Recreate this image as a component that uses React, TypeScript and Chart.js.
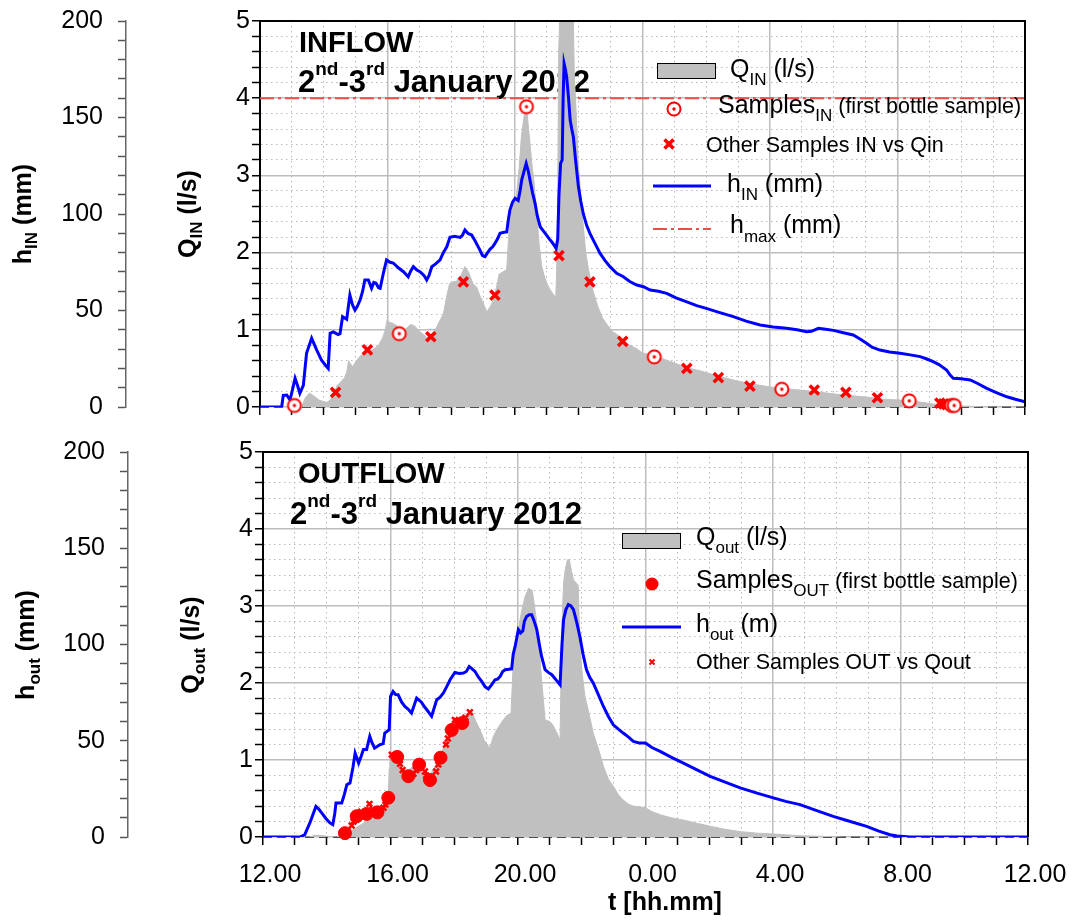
import React, { useEffect, useRef } from 'react';
import { Chart, registerables } from 'chart.js';

Chart.register(...registerables);

const FONT = '"Liberation Sans", Arial, Helvetica, sans-serif';

// ---------- X axis: hours after 12.00 (2nd Jan) ----------
const xTickLabels = ['12.00', '16.00', '20.00', '0.00', '4.00', '8.00', '12.00'];

// ---------- INFLOW ----------
const qInT = [0, 1.3, 1.42, 1.55, 1.7, 1.85, 2.0, 2.1, 2.2, 2.3, 2.42, 2.55, 2.65, 2.72, 2.78, 2.9, 3.0, 3.1, 3.2, 3.3, 3.45, 3.6, 3.72, 3.85, 3.93, 3.99, 4.05, 4.18, 4.3, 4.45, 4.6, 4.72, 4.85, 4.98, 5.1, 5.22, 5.35, 5.5, 5.62, 5.75, 5.85, 5.95, 6.05, 6.17, 6.3, 6.43, 6.55, 6.68, 6.8, 6.92, 7.05, 7.12, 7.22, 7.32, 7.42, 7.5, 7.62, 7.74, 7.8, 7.86, 7.95, 8.05, 8.13, 8.2, 8.27, 8.32, 8.38, 8.45, 8.53, 8.6, 8.68, 8.76, 8.84, 8.92, 9.0, 9.1, 9.2, 9.28, 9.33, 9.37, 9.42, 9.82, 9.86, 9.92, 9.98, 10.05, 10.13, 10.22, 10.32, 10.45, 10.6, 10.75, 10.9, 11.05, 11.2, 11.4, 11.6, 11.8, 12.0, 12.3, 12.6, 13.0, 13.4, 13.8, 14.3, 14.85, 15.4, 16.0, 16.7, 17.4, 18.2, 19.0, 19.6, 20.1, 20.6, 21.1, 21.6, 22.2, 22.8, 23.3, 24];
const qInV = [0, 0, 0.12, 0.18, 0.14, 0.09, 0.07, 0.06, 0.09, 0.15, 0.28, 0.33, 0.38, 0.45, 0.6, 0.52, 0.58, 0.64, 0.68, 0.7, 0.72, 0.76, 0.8, 0.9, 1.0, 1.13, 1.1, 1.08, 1.05, 0.98, 1.02, 1.07, 1.05, 0.99, 0.95, 0.9, 0.93, 1.0, 1.1, 1.2, 1.42, 1.6, 1.62, 1.63, 1.7, 1.82, 1.74, 1.6, 1.55, 1.42, 1.3, 1.23, 1.3, 1.38, 1.55, 1.72, 1.75, 1.78, 2.2, 2.5, 2.6, 2.75, 3.1, 3.5, 3.72, 3.86, 3.8, 3.5, 3.15, 2.9, 2.5, 2.1, 1.82, 1.7, 1.6, 1.52, 1.46, 1.42, 2.1, 4.6, 5.3, 5.3, 4.3, 3.8, 3.2, 2.8, 2.4, 2.0, 1.75, 1.5, 1.3, 1.15, 1.06, 0.98, 0.94, 0.86, 0.8, 0.76, 0.7, 0.67, 0.63, 0.57, 0.51, 0.47, 0.41, 0.35, 0.3, 0.26, 0.23, 0.2, 0.16, 0.13, 0.1, 0.09, 0.07, 0.04, 0.02, 0.01, 0, 0, 0];

const hInT = [0, 0.68, 0.73, 0.84, 0.94, 1.02, 1.1, 1.18, 1.25, 1.36, 1.46, 1.62, 1.78, 1.93, 2.06, 2.14, 2.2, 2.3, 2.45, 2.51, 2.59, 2.72, 2.82, 2.9, 2.98, 3.05, 3.14, 3.22, 3.29, 3.4, 3.5, 3.57, 3.64, 3.72, 3.77, 3.87, 3.97, 4.08, 4.18, 4.35, 4.5, 4.65, 4.73, 4.81, 4.92, 5.02, 5.15, 5.23, 5.3, 5.39, 5.5, 5.65, 5.75, 5.86, 5.96, 6.1, 6.28, 6.35, 6.43, 6.52, 6.64, 6.75, 6.9, 6.98, 7.06, 7.14, 7.22, 7.3, 7.37, 7.45, 7.53, 7.65, 7.74, 7.8, 7.84, 7.92, 8.0, 8.1, 8.16, 8.21, 8.28, 8.35, 8.42, 8.47, 8.55, 8.63, 8.7, 8.79, 8.9, 8.99, 9.08, 9.15, 9.22, 9.29, 9.34, 9.38, 9.43, 9.48, 9.51, 9.54, 9.58, 9.62, 9.68, 9.73, 9.78, 9.83, 9.9, 9.99, 10.06, 10.14, 10.25, 10.35, 10.5, 10.67, 10.82, 10.98, 11.19, 11.4, 11.6, 11.82, 12.03, 12.24, 12.5, 12.76, 13.05, 13.39, 13.7, 14.0, 14.4, 14.85, 15.25, 15.69, 16.1, 16.52, 16.85, 17.15, 17.3, 17.52, 17.75, 17.99, 18.3, 18.61, 18.8, 19.03, 19.2, 19.45, 19.75, 20.08, 20.4, 20.71, 20.9, 21.12, 21.3, 21.54, 21.65, 21.75, 22.0, 22.28, 22.5, 22.8, 23.1, 23.43, 23.7, 24];
const hInV = [0, 0, 6, 6.2, 3.6, 9, 14.9, 11, 7.1, 11.2, 27.8, 35.6, 29.5, 24.3, 21.5, 20, 38.2, 38.9, 37.5, 38, 46.8, 45.5, 58, 53, 50.2, 52, 55.4, 60, 65.8, 65.8, 61.5, 64.5, 64.1, 61.8, 61.5, 69.3, 76.2, 75, 74.6, 72, 70.1, 67.5, 70.5, 72.7, 71, 70.1, 68, 65.8, 68, 72.7, 74, 76.2, 80, 83, 87.9, 88.5, 87.9, 89, 91.7, 90, 89.1, 86, 81.3, 78.5, 77.9, 80, 81.8, 83, 84.8, 87, 90, 90.5, 90.7, 98, 102, 106, 108.1, 107, 112, 117.6, 122, 126.2, 122, 117.6, 111, 105.5, 99, 93.4, 91, 89.1, 87, 85.6, 84, 82.2, 87, 110, 126.2, 128, 160, 178, 175, 171.1, 160, 148.7, 144, 140, 128, 114.1, 107, 100.3, 94, 90, 85, 79.6, 76, 72.7, 69.3, 67.5, 65, 63.2, 62.3, 60.6, 60, 58.9, 56.5, 54.5, 52.5, 51.1, 49, 46.8, 44.5, 42.5, 41.5, 40.8, 40, 39, 39.2, 40.8, 40.3, 39.7, 38.5, 37.3, 35.5, 33, 31, 29.5, 28.5, 27.8, 27, 26.1, 25, 23.5, 22, 19.2, 16.5, 14.9, 14.6, 14, 12.3, 9.7, 7.5, 5.3, 4, 2.7];

const sampInT = [1.08, 4.37, 8.36, 12.37, 16.37, 20.37, 21.7, 21.78];
const sampInQ = [0.02, 0.95, 3.89, 0.65, 0.23, 0.08, 0.02, 0.02];

const otherInT = [2.37, 3.37, 5.36, 6.38, 7.37, 9.38, 10.35, 11.38, 13.39, 14.38, 15.37, 17.39, 18.38, 19.37, 21.33, 21.45, 21.55, 21.65];
const otherInQ = [0.19, 0.74, 0.91, 1.62, 1.45, 1.96, 1.62, 0.85, 0.5, 0.38, 0.27, 0.22, 0.19, 0.12, 0.05, 0.04, 0.03, 0.03];

const hMaxValue = 160; // mm

// ---------- OUTFLOW ----------
const qOutT = [0, 1.45, 1.6, 1.8, 2.0, 2.3, 2.5, 2.73, 2.95, 3.15, 3.35, 3.57, 3.75, 3.93, 3.96, 3.98, 4.1, 4.19, 4.35, 4.51, 4.65, 4.82, 4.98, 5.14, 5.3, 5.45, 5.6, 5.76, 5.88, 5.97, 6.1, 6.25, 6.4, 6.55, 6.68, 6.81, 6.95, 7.12, 7.22, 7.33, 7.5, 7.65, 7.78, 7.85, 8.01, 8.12, 8.22, 8.33, 8.45, 8.59, 8.67, 8.75, 8.85, 9.0, 9.1, 9.22, 9.32, 9.37, 9.43, 9.48, 9.55, 9.61, 9.68, 9.74, 9.89, 9.94, 10.02, 10.1, 10.23, 10.36, 10.52, 10.68, 10.84, 10.99, 11.15, 11.3, 11.46, 11.62, 11.85, 12.0, 12.2, 12.46, 12.8, 13.19, 13.6, 14.03, 14.5, 14.97, 15.5, 16.01, 16.7, 17.37, 18.2, 24];
const qOutV = [0, 0, 0.02, 0.02, 0.01, 0, 0.02, 0.07, 0.13, 0.18, 0.24, 0.31, 0.4, 0.53, 0.9, 1.09, 1.05, 1.0, 0.9, 0.83, 0.9, 0.96, 0.85, 0.74, 0.85, 0.96, 1.1, 1.26, 1.42, 1.52, 1.5, 1.55, 1.6, 1.63, 1.5, 1.39, 1.25, 1.16, 1.3, 1.39, 1.5, 1.58, 1.6, 2.26, 2.69, 2.95, 3.12, 3.23, 3.2, 2.78, 2.4, 2.0, 1.52, 1.5, 1.45, 1.35, 1.26, 2.69, 3.3, 3.47, 3.6, 3.6, 3.45, 3.34, 3.27, 2.48, 2.1, 1.83, 1.6, 1.35, 1.15, 0.92, 0.75, 0.66, 0.55, 0.48, 0.43, 0.4, 0.39, 0.38, 0.33, 0.29, 0.25, 0.22, 0.18, 0.14, 0.1, 0.07, 0.05, 0.04, 0.02, 0.01, 0, 0];

const hOutT = [0, 1.16, 1.31, 1.47, 1.66, 1.75, 1.84, 1.98, 2.1, 2.19, 2.25, 2.29, 2.47, 2.55, 2.63, 2.73, 2.82, 2.89, 3.0, 3.08, 3.15, 3.25, 3.35, 3.42, 3.5, 3.58, 3.66, 3.77, 3.82, 3.96, 4.0, 4.08, 4.16, 4.24, 4.35, 4.45, 4.55, 4.66, 4.82, 4.97, 5.05, 5.14, 5.29, 5.45, 5.55, 5.66, 5.76, 5.87, 6.02, 6.15, 6.29, 6.38, 6.47, 6.55, 6.65, 6.76, 6.86, 6.97, 7.07, 7.17, 7.28, 7.36, 7.44, 7.52, 7.6, 7.8, 7.85, 7.91, 8.01, 8.08, 8.15, 8.2, 8.27, 8.35, 8.43, 8.51, 8.59, 8.67, 8.74, 8.85, 8.95, 9.06, 9.2, 9.32, 9.38, 9.43, 9.5, 9.58, 9.66, 9.74, 9.85, 9.94, 10.04, 10.15, 10.25, 10.36, 10.52, 10.68, 10.84, 10.99, 11.15, 11.3, 11.46, 11.62, 11.8, 12.0, 12.2, 12.46, 12.8, 13.19, 13.6, 14.03, 14.5, 14.97, 15.5, 16.01, 16.4, 16.85, 17.35, 17.89, 18.4, 18.94, 19.3, 19.67, 19.9, 20.3, 24];
const hOutV = [0, 0, 1.2, 7.3, 15.9, 14.5, 12.5, 9.5, 7.3, 6.4, 12, 17.7, 17.7, 22, 27.2, 28.1, 36, 43.6, 38.4, 42, 45.4, 45.4, 52.3, 49, 46.2, 47, 47.9, 48.5, 54, 55.7, 73, 75.6, 74, 73.9, 70, 67.8, 66.5, 64.4, 72.2, 70, 68, 66.1, 62.7, 71.3, 72.5, 74.8, 78, 81.7, 85.5, 85, 85.2, 86, 88.6, 87.5, 86, 83, 80.8, 78, 76.9, 79, 81.7, 82, 83.4, 86, 86.9, 87.3, 95, 99, 107.7, 106, 107, 112, 114.6, 115.5, 115.5, 112, 107.7, 100, 93.8, 86.9, 85.5, 84.3, 81.5, 79.1, 100, 112.9, 118, 120.7, 120, 118.1, 111, 104.2, 95, 86.9, 83, 80, 74, 67.8, 62.5, 58.3, 56, 54, 52, 49.7, 48.8, 48.8, 46.5, 44.5, 41.5, 38.4, 35, 31.5, 28.5, 25.5, 22.8, 20.3, 18.5, 16.8, 13.8, 10.7, 8.2, 5.5, 3.2, 1.2, 0.5, 0, 0];

const sampOutT = [2.57, 2.94, 3.25, 3.59, 3.93, 4.21, 4.56, 4.9, 5.24, 5.57, 5.92, 6.25];
const sampOutQ = [0.05, 0.27, 0.3, 0.32, 0.51, 1.04, 0.79, 0.94, 0.74, 1.03, 1.39, 1.48];

const otherOutT = [2.66, 2.78, 2.84, 3.08, 3.12, 3.34, 3.44, 3.7, 3.78, 3.84, 4.04, 4.3, 4.38, 4.48, 4.72, 4.8, 5.08, 5.12, 5.43, 5.5, 5.74, 5.8, 6.02, 6.1, 6.35, 6.49];
const otherOutQ = [0.08, 0.15, 0.2, 0.33, 0.3, 0.43, 0.36, 0.35, 0.38, 0.42, 1.07, 0.95, 0.87, 0.82, 0.82, 0.87, 0.85, 0.8, 0.85, 0.94, 1.2, 1.28, 1.52, 1.46, 1.55, 1.62];

// ---------- helpers ----------
const pts = (t: number[], v: number[]) => t.map((x, i) => ({ x, y: v[i] }));
const isInt = (v: number) => Math.abs(v - Math.round(v)) < 1e-6;

type Seg = { t: string; size: number; bold?: boolean; dy?: number };
const fontOf = (s: Seg) => `${s.bold ? 'bold ' : ''}${s.size}px ${FONT}`;

function drawRich(ctx: CanvasRenderingContext2D, segs: Seg[], x: number, y: number, rotate = false, center = false) {
  ctx.save();
  ctx.fillStyle = '#000';
  ctx.textAlign = 'left';
  ctx.textBaseline = 'alphabetic';
  ctx.translate(x, y);
  if (rotate) ctx.rotate(-Math.PI / 2);
  let total = 0;
  for (const s of segs) {
    ctx.font = fontOf(s);
    total += ctx.measureText(s.t).width;
  }
  let cx = center ? -total / 2 : 0;
  for (const s of segs) {
    ctx.font = fontOf(s);
    ctx.fillText(s.t, cx, s.dy || 0);
    cx += ctx.measureText(s.t).width;
  }
  ctx.restore();
}

function makeCircleDot(): HTMLCanvasElement {
  const c = document.createElement('canvas');
  c.width = 18;
  c.height = 18;
  const g = c.getContext('2d')!;
  g.beginPath();
  g.arc(9, 9, 6.5, 0, Math.PI * 2);
  g.fillStyle = '#ffffff';
  g.fill();
  g.lineWidth = 2;
  g.strokeStyle = '#ff0000';
  g.stroke();
  g.beginPath();
  g.arc(9, 9, 1.7, 0, Math.PI * 2);
  g.fillStyle = '#ff0000';
  g.fill();
  return c;
}

function drawCross(ctx: CanvasRenderingContext2D, x: number, y: number, r: number, w: number) {
  ctx.save();
  ctx.strokeStyle = '#ff0000';
  ctx.lineWidth = w;
  ctx.beginPath();
  ctx.moveTo(x - r, y - r);
  ctx.lineTo(x + r, y + r);
  ctx.moveTo(x - r, y + r);
  ctx.lineTo(x + r, y - r);
  ctx.stroke();
  ctx.restore();
}

const big = (t: string, dy = 0): Seg => ({ t, size: 25, dy });
const sub = (t: string, dy = 8): Seg => ({ t, size: 17, dy });
const small = (t: string): Seg => ({ t, size: 21.5 });
const bold = (t: string, size: number, dy = 0): Seg => ({ t, size, bold: true, dy });

function decoPlugin(kind: 'in' | 'out', circleDot: HTMLCanvasElement) {
  const isOut = kind === 'out';
  return {
    id: 'deco_' + kind,
    beforeDatasetsDraw(chart: any) {
      const { ctx, chartArea: a } = chart;
      ctx.save();
      ctx.strokeStyle = '#222';
      ctx.lineWidth = 1.5;
      ctx.setLineDash([9, 5]);
      ctx.beginPath();
      ctx.moveTo(a.left, a.bottom);
      ctx.lineTo(a.right, a.bottom);
      ctx.stroke();
      ctx.setLineDash([]);
      ctx.restore();
      const dateSegs = [bold('2', 31), bold('nd', 19, -17), bold('-3', 31), bold('rd', 19, -17), bold(' January 2012', 31)];
      if (!isOut) {
        drawRich(ctx, [bold('INFLOW', 29)], 299, 52);
        drawRich(ctx, dateSegs, 298, 92);
      } else {
        drawRich(ctx, [bold('OUTFLOW', 29)], 298, 53);
        drawRich(ctx, dateSegs, 290, 93.5);
      }
    },
    afterDatasetsDraw(chart: any) {
      const { ctx, chartArea: a } = chart;
      ctx.save();
      ctx.strokeStyle = '#000';
      ctx.lineWidth = 2;
      ctx.beginPath();
      ctx.moveTo(a.left, a.top);
      ctx.lineTo(a.right, a.top);
      ctx.lineTo(a.right, a.bottom);
      ctx.stroke();
      ctx.restore();

      ctx.save();
      if (!isOut) {
        ctx.fillStyle = '#c0c0c0';
        ctx.fillRect(657, 63, 59, 16);
        ctx.strokeStyle = '#000';
        ctx.lineWidth = 1;
        ctx.strokeRect(657.5, 63.5, 58, 15);
        drawRich(ctx, [big('Q'), sub('IN'), big(' (l/s)')], 730, 77);
        ctx.drawImage(circleDot, 674 - 9, 109 - 9);
        drawRich(ctx, [big('Samples'), sub('IN'), small(' (first bottle sample)')], 718, 113);
        drawCross(ctx, 669, 144, 4.5, 3.5);
        drawRich(ctx, [small('Other Samples IN vs Qin')], 706, 152);
        ctx.strokeStyle = '#0000ff';
        ctx.lineWidth = 3;
        ctx.beginPath();
        ctx.moveTo(653, 186);
        ctx.lineTo(711, 186);
        ctx.stroke();
        drawRich(ctx, [big('h'), sub('IN'), big(' (mm)')], 727, 192);
        ctx.strokeStyle = '#ee4b4b';
        ctx.lineWidth = 2;
        ctx.setLineDash([14, 4, 3, 4]);
        ctx.beginPath();
        ctx.moveTo(653, 229);
        ctx.lineTo(711, 229);
        ctx.stroke();
        ctx.setLineDash([]);
        drawRich(ctx, [big('h'), sub('max', 9), big(' (mm)')], 730, 233);
      } else {
        ctx.fillStyle = '#c0c0c0';
        ctx.fillRect(622, 103, 59, 16);
        ctx.strokeStyle = '#000';
        ctx.lineWidth = 1;
        ctx.strokeRect(622.5, 103.5, 58, 15);
        drawRich(ctx, [big('Q'), sub('out'), big(' (l/s)')], 696, 115);
        ctx.fillStyle = '#ff0000';
        ctx.beginPath();
        ctx.arc(652, 154, 6.5, 0, Math.PI * 2);
        ctx.fill();
        drawRich(ctx, [big('Samples'), sub('OUT'), small(' (first bottle sample)')], 696, 158);
        ctx.strokeStyle = '#0000ff';
        ctx.lineWidth = 3;
        ctx.beginPath();
        ctx.moveTo(622, 197);
        ctx.lineTo(681, 197);
        ctx.stroke();
        drawRich(ctx, [big('h'), sub('out'), big(' (m)')], 696, 202);
        drawCross(ctx, 652, 232, 2.5, 2);
        drawRich(ctx, [small('Other Samples OUT vs Qout')], 696, 239);
      }
      ctx.restore();
    },
    afterDraw(chart: any) {
      const { ctx } = chart;
      if (!isOut) {
        drawRich(ctx, [bold('h', 25), bold('IN', 17, 6), bold(' (mm)', 25)], 31, 214, true, true);
        drawRich(ctx, [bold('Q', 25), bold('IN', 17, 6), bold(' (l/s)', 25)], 196, 214, true, true);
      } else {
        drawRich(ctx, [bold('h', 25), bold('out', 17, 6), bold(' (mm)', 25)], 34, 215, true, true);
        drawRich(ctx, [bold('Q', 25), bold('out', 17, 6), bold(' (l/s)', 25)], 199, 215, true, true);
        drawRich(ctx, [bold('t [hh.mm]', 25)], 665, 480, false, true);
      }
    },
  };
}

function buildConfig(kind: 'in' | 'out', circleDot: HTMLCanvasElement): any {
  const isOut = kind === 'out';
  const tickFont = { family: FONT, size: 25 };
  const majorX = (c: any) => c.tick && Math.round(c.tick.value) % 4 === 0;
  const majorQ = (c: any) => c.tick && isInt(c.tick.value);

  const datasets: any[] = [];
  if (!isOut) {
    datasets.push({
      label: 'hmax', yAxisID: 'yh', data: pts([0, 24], [hMaxValue, hMaxValue]),
      borderColor: '#ee4b4b', borderWidth: 2, borderDash: [14, 4, 3, 4], pointRadius: 0, order: 10,
    });
  }
  datasets.push({
    label: 'Q', yAxisID: 'yq', data: isOut ? pts(qOutT, qOutV) : pts(qInT, qInV),
    borderColor: '#c0c0c0', backgroundColor: '#c0c0c0', borderWidth: 1, fill: 'origin', pointRadius: 0, tension: 0, order: 5,
  });
  datasets.push({
    label: 'h', yAxisID: 'yh', data: isOut ? pts(hOutT, hOutV) : pts(hInT, hInV),
    borderColor: '#0000ff', borderWidth: 3, pointRadius: 0, tension: 0, fill: false, order: 3,
  });
  if (!isOut) {
    datasets.push({
      label: 'Other samples', yAxisID: 'yq', data: pts(otherInT, otherInQ), showLine: false, clip: false,
      pointStyle: 'crossRot', pointRadius: 6.5, pointBorderColor: '#ff0000', pointBorderWidth: 3.5, borderColor: '#ff0000', order: 2,
    });
    datasets.push({
      label: 'Samples', yAxisID: 'yq', data: pts(sampInT, sampInQ), showLine: false, clip: false,
      pointStyle: circleDot, pointRadius: 7, order: 1,
    });
  } else {
    datasets.push({
      label: 'Other samples', yAxisID: 'yq', data: pts(otherOutT, otherOutQ), showLine: false, clip: false,
      pointStyle: 'crossRot', pointRadius: 4, pointBorderColor: '#ff0000', pointBorderWidth: 2.5, borderColor: '#ff0000', order: 2,
    });
    datasets.push({
      label: 'Samples', yAxisID: 'yq', data: pts(sampOutT, sampOutQ), showLine: false, clip: false,
      pointStyle: 'circle', pointRadius: 6.5, pointBackgroundColor: '#ff0000', pointBorderColor: '#ff0000', pointBorderWidth: 1, order: 1,
    });
  }

  return {
    type: 'line',
    data: { datasets },
    options: {
      animation: false,
      responsive: false,
      maintainAspectRatio: false,
      events: [],
      layout: { padding: { left: 0, right: isOut ? 44 : 47, top: isOut ? 22 : 21, bottom: 0 } },
      plugins: { legend: { display: false }, tooltip: { enabled: false }, title: { display: false } },
      scales: {
        x: {
          type: 'linear', position: 'bottom', min: 0, max: 24,
          ticks: {
            display: isOut, stepSize: 1, autoSkip: false, maxRotation: 0, minRotation: 0, labelOffset: 7, padding: 15,
            font: tickFont, color: '#000',
            callback: (v: number) => (Math.round(v) % 4 === 0 ? xTickLabels[Math.round(v) / 4] : ''),
          },
          grid: {
            color: (c: any) => (majorX(c) ? '#bdbdbd' : '#b9b9b9'),
            lineWidth: (c: any) => (majorX(c) ? 1.5 : 1),
            tickColor: '#000', tickWidth: 1.5, tickLength: 8,
          },
          border: { display: false, dash: (c: any) => (c.tick && !majorX(c) ? [1.5, 3.5] : []) },
          afterFit: (s: any) => { s.height = isOut ? 83 : 23; s.paddingLeft = 0; s.paddingRight = 0; },
        },
        yh: {
          type: 'linear', position: 'left', weight: 1, min: 0, max: 200,
          ticks: {
            stepSize: 10, autoSkip: false, padding: 15, font: tickFont, color: '#000',
            callback: (v: number) => (Math.round(v) % 50 === 0 ? String(Math.round(v)) : ''),
          },
          grid: { drawOnChartArea: false, tickColor: '#555', tickWidth: 1.5, tickLength: 8 },
          border: { display: true, color: '#666', width: 1.5 },
          afterFit: (s: any) => { s.width = isOut ? 128 : 126; s.paddingTop = 0; s.paddingBottom = 0; },
        },
        yq: {
          type: 'linear', position: 'left', weight: 0, min: 0, max: 5,
          ticks: {
            stepSize: 0.2, autoSkip: false, padding: 2, font: tickFont, color: '#000',
            callback: (v: number) => (isInt(v) ? String(Math.round(v)) : ''),
          },
          grid: {
            color: (c: any) => (majorQ(c) ? '#bdbdbd' : '#b9b9b9'),
            lineWidth: (c: any) => (majorQ(c) ? 1.5 : 1),
            tickColor: '#000', tickWidth: 1.5, tickLength: 8,
          },
          border: { display: true, color: '#000', width: 2, dash: (c: any) => (c.tick && !majorQ(c) ? [1.5, 3.5] : []) },
          afterFit: (s: any) => { s.width = isOut ? 135 : 134; s.paddingTop = 0; s.paddingBottom = 0; },
        },
      },
    },
    plugins: [decoPlugin(kind, circleDot)],
  };
}

function ChartPanel({ kind, top, height }: { kind: 'in' | 'out'; top: number; height: number }) {
  const ref = useRef<HTMLCanvasElement>(null);
  useEffect(() => {
    if (!ref.current) return;
    const chart = new Chart(ref.current, buildConfig(kind, makeCircleDot()));
    return () => chart.destroy();
  }, [kind]);
  return (
    <canvas
      ref={ref}
      width={1072}
      height={height}
      style={{ position: 'absolute', left: 0, top, width: 1072, height, display: 'block' }}
    />
  );
}

export default function App() {
  return (
    <div style={{ position: 'absolute', left: 0, top: 0, width: 1072, height: 920, background: '#ffffff', overflow: 'hidden' }}>
      <ChartPanel kind="in" top={0} height={430} />
      <ChartPanel kind="out" top={430} height={490} />
    </div>
  );
}
